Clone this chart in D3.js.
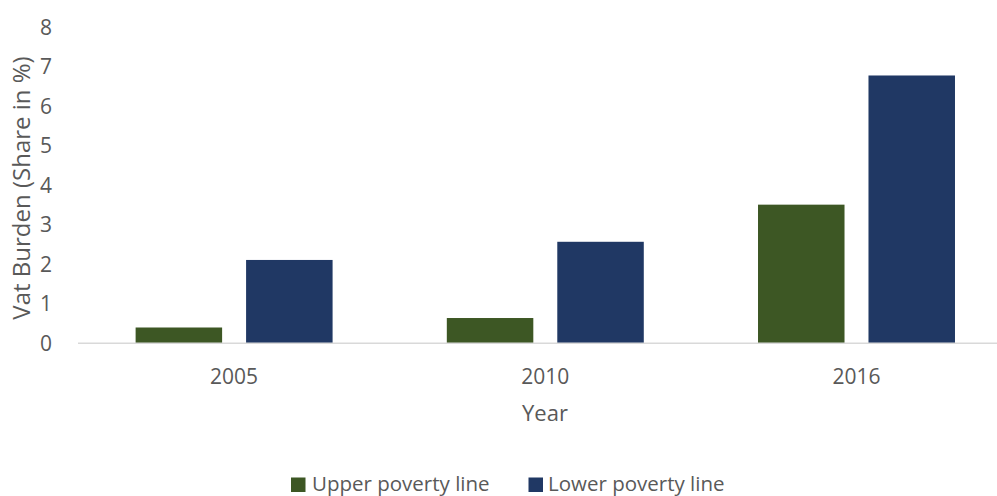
<!DOCTYPE html>
<html>
<head>
<meta charset="utf-8">
<script src="https://cdn.jsdelivr.net/npm/d3@7"></script>
<style>
  html, body { margin: 0; padding: 0; background: #fff; }
  svg { display: block; font-family: "Open Sans", sans-serif; }
</style>
</head>
<body>
<svg id="chart" width="997" height="496"></svg>
<script>
const years = ["2005", "2010", "2016"];
const seriesNames = ["Upper poverty line", "Lower poverty line"];
const upperValues = [0.40, 0.64, 3.51];
const lowerValues = [2.11, 2.57, 6.78];
const yTicks = [0, 1, 2, 3, 4, 5, 6, 7, 8];
const colors = ["#3d5724", "#203864"];

const svg = d3.select("#chart");
const textColor = "#595959";

const x0 = d3.scaleBand().domain(years).range([78.5, 1012.1]).paddingInner(0).paddingOuter(0);
const x1 = d3.scaleBand().domain(seriesNames).range([0, x0.bandwidth()])
  .paddingInner(0.217).paddingOuter(0.517);
const y = d3.scaleLinear().domain([0, 8]).range([343.3, 27.3]);

const color = d3.scaleOrdinal().domain(seriesNames).range(colors);

const data = years.map((yr, i) => ({
  year: yr,
  values: [
    { key: seriesNames[0], value: upperValues[i] },
    { key: seriesNames[1], value: lowerValues[i] }
  ]
}));

// bars
const groups = svg.append("g").selectAll("g").data(data).join("g")
  .attr("transform", d => `translate(${x0(d.year)},0)`);
groups.selectAll("rect").data(d => d.values).join("rect")
  .attr("x", d => x1(d.key))
  .attr("width", x1.bandwidth())
  .attr("y", d => y(d.value))
  .attr("height", d => y(0) - y(d.value))
  .attr("fill", d => color(d.key));

// x axis line
svg.append("line")
  .attr("x1", 78).attr("x2", 997)
  .attr("y1", y(0)).attr("y2", y(0))
  .attr("stroke", "#d9d9d9").attr("stroke-width", 1.5);

// x tick labels
const xAxis = d3.axisBottom(x0).tickSize(0).tickPadding(0);
const gx = svg.append("g").attr("transform", `translate(0,${y(0)})`).call(xAxis);
gx.select(".domain").remove();
gx.selectAll("text")
  .attr("dy", null).attr("y", 41)
  .attr("font-size", 21).attr("fill", textColor)
  .attr("font-family", "Open Sans, sans-serif");

// y tick labels
const yAxis = d3.axisLeft(y).tickValues(yTicks).tickSize(0).tickPadding(0).tickFormat(d3.format("d"));
const gy = svg.append("g").attr("transform", "translate(52,0)").call(yAxis);
gy.select(".domain").remove();
gy.selectAll("text")
  .attr("font-size", 21).attr("fill", textColor)
  .attr("font-family", "Open Sans, sans-serif");

// axis titles
svg.append("text")
  .attr("x", 545).attr("y", 421)
  .attr("text-anchor", "middle")
  .attr("font-size", 22).attr("fill", textColor)
  .text("Year");

svg.append("text")
  .attr("transform", "translate(30,188) rotate(-90)")
  .attr("text-anchor", "middle")
  .attr("font-size", 24).attr("fill", textColor)
  .text("Vat Burden (Share in %)");

// legend
const legendItems = [
  { name: seriesNames[0], sx: 291, tx: 312 },
  { name: seriesNames[1], sx: 528.5, tx: 548 }
];
const lg = svg.append("g");
legendItems.forEach(item => {
  lg.append("rect")
    .attr("x", item.sx).attr("y", 477.5)
    .attr("width", 14.5).attr("height", 14.5)
    .attr("fill", color(item.name));
  lg.append("text")
    .attr("x", item.tx).attr("y", 490.5)
    .attr("font-size", 20.5).attr("fill", textColor)
    .text(item.name);
});
</script>
</body>
</html>
